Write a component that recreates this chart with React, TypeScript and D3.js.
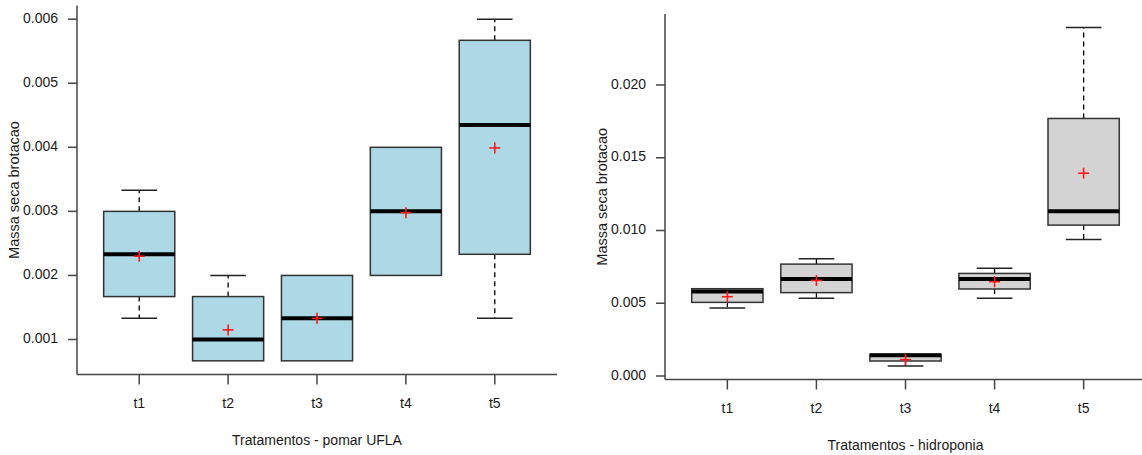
import React from "react";
import * as d3 from "d3";

// Treatment labels shared by both panels
const categories = ["t1", "t2", "t3", "t4", "t5"];

// Panel 1: pomar UFLA — five-number summaries and means
const pomarLower = [0.00133, 0.000667, 0.000667, 0.002, 0.00133];
const pomarQ1 = [0.00167, 0.000667, 0.000667, 0.002, 0.00233];
const pomarMedian = [0.00233, 0.001, 0.00133, 0.003, 0.00435];
const pomarQ3 = [0.003, 0.00167, 0.002, 0.004, 0.00567];
const pomarUpper = [0.00333, 0.002, 0.002, 0.004, 0.006];
const pomarMean = [0.0023, 0.00115, 0.00133, 0.00298, 0.00399];
const pomarTicks = [0.001, 0.002, 0.003, 0.004, 0.005, 0.006];

// Panel 2: hidroponia — five-number summaries and means
const hidroLower = [0.00467, 0.00534, 0.00069, 0.00534, 0.00939];
const hidroQ1 = [0.00506, 0.00573, 0.00103, 0.00598, 0.01037];
const hidroMedian = [0.0058, 0.00666, 0.00142, 0.00666, 0.01133];
const hidroQ3 = [0.006, 0.00769, 0.00149, 0.00705, 0.0177];
const hidroUpper = [0.006, 0.00806, 0.00149, 0.0074, 0.02395];
const hidroMean = [0.00545, 0.00657, 0.00113, 0.00648, 0.01394];
const hidroTicks = [0.0, 0.005, 0.01, 0.015, 0.02];

const W = 1142;
const H = 455;
const FONT = "'Liberation Sans', Arial, sans-serif";
const TEXT = "#1a1a1a";
const AXIS = "#444";

type Stats = {
  lower: number[];
  q1: number[];
  median: number[];
  q3: number[];
  upper: number[];
  mean: number[];
};

type PanelProps = {
  stats: Stats;
  ticks: number[];
  fill: string;
  xLabel: string;
  left: number;
  right: number;
  top: number;
  bottom: number;
  tickFormat: (v: number) => string;
};

function BoxPanel({ stats, ticks, fill, xLabel, left, right, top, bottom, tickFormat }: PanelProps) {
  const lo = d3.min(stats.lower)!;
  const hi = d3.max(stats.upper)!;
  const pad = (hi - lo) * 0.04;
  const y = d3.scaleLinear().domain([lo - pad, hi + pad]).range([bottom, top]);
  const x = d3.scaleLinear().domain([0.3, 5.7]).range([left, right]);
  const boxHalf = (x(1.4) - x(1)) ;
  const capHalf = (x(1.2) - x(1));
  const cx = (i: number) => x(i + 1);

  return (
    <g fontFamily={FONT} fill={TEXT}>
      {/* axes */}
      <line x1={left} x2={left} y1={top} y2={bottom} stroke={AXIS} strokeWidth={1.5} />
      <line x1={left} x2={right} y1={bottom} y2={bottom} stroke={AXIS} strokeWidth={1.5} />
      {ticks.map((t) => (
        <g key={t}>
          <line x1={left - 9} x2={left} y1={y(t)} y2={y(t)} stroke={AXIS} strokeWidth={1.5} />
          <text x={left - 19} y={y(t)} textAnchor="end" dominantBaseline="middle" fontSize={14}>
            {tickFormat(t)}
          </text>
        </g>
      ))}
      {categories.map((c, i) => (
        <g key={c}>
          <line x1={cx(i)} x2={cx(i)} y1={bottom} y2={bottom + 10} stroke={AXIS} strokeWidth={1.5} />
          <text x={cx(i)} y={bottom + 29.5} textAnchor="middle" dominantBaseline="middle" fontSize={14}>
            {c}
          </text>
        </g>
      ))}
      <text
        x={(left + right) / 2}
        y={bottom + 70}
        textAnchor="middle"
        fontSize={14}
      >
        {xLabel}
      </text>
      <text
        transform={`translate(${left - 62},${(top + bottom) / 2}) rotate(-90)`}
        textAnchor="middle"
        dominantBaseline="middle"
        fontSize={14.5}
      >
        Massa seca brotacao
      </text>

      {/* boxes */}
      {categories.map((c, i) => {
        const xc = cx(i);
        const yLow = y(stats.lower[i]);
        const yQ1 = y(stats.q1[i]);
        const yMed = y(stats.median[i]);
        const yQ3 = y(stats.q3[i]);
        const yUp = y(stats.upper[i]);
        const yMean = y(stats.mean[i]);
        return (
          <g key={c}>
            {stats.upper[i] > stats.q3[i] && (
              <>
                <line x1={xc} x2={xc} y1={yQ3} y2={yUp} stroke="#000" strokeWidth={1.3} strokeDasharray="5,4" />
                <line x1={xc - capHalf} x2={xc + capHalf} y1={yUp} y2={yUp} stroke="#222" strokeWidth={1.5} />
              </>
            )}
            {stats.lower[i] < stats.q1[i] && (
              <>
                <line x1={xc} x2={xc} y1={yQ1} y2={yLow} stroke="#000" strokeWidth={1.3} strokeDasharray="5,4" />
                <line x1={xc - capHalf} x2={xc + capHalf} y1={yLow} y2={yLow} stroke="#222" strokeWidth={1.5} />
              </>
            )}
            <rect
              x={xc - boxHalf}
              y={yQ3}
              width={boxHalf * 2}
              height={yQ1 - yQ3}
              fill={fill}
              stroke="#333"
              strokeWidth={1.5}
            />
            <line x1={xc - boxHalf} x2={xc + boxHalf} y1={yMed} y2={yMed} stroke="#000" strokeWidth={4} />
            <g stroke="#ff1a1a" strokeWidth={1.6}>
              <line x1={xc - 5.5} x2={xc + 5.5} y1={yMean} y2={yMean} />
              <line x1={xc} x2={xc} y1={yMean - 5.5} y2={yMean + 5.5} />
            </g>
          </g>
        );
      })}
    </g>
  );
}

export default function App() {
  const pomar: Stats = {
    lower: pomarLower,
    q1: pomarQ1,
    median: pomarMedian,
    q3: pomarQ3,
    upper: pomarUpper,
    mean: pomarMean,
  };
  const hidro: Stats = {
    lower: hidroLower,
    q1: hidroQ1,
    median: hidroMedian,
    q3: hidroQ3,
    upper: hidroUpper,
    mean: hidroMean,
  };
  return (
    <svg
      width={W}
      height={H}
      style={{ position: "absolute", left: 0, top: 0, background: "#fff" }}
    >
      <rect width={W} height={H} fill="#fff" />
      <BoxPanel
        stats={pomar}
        ticks={pomarTicks}
        fill="#add8e6"
        xLabel="Tratamentos - pomar UFLA"
        left={77}
        right={557}
        top={5.5}
        bottom={374.5}
        tickFormat={d3.format(".3f")}
      />
      <BoxPanel
        stats={hidro}
        ticks={hidroTicks}
        fill="#d3d3d3"
        xLabel="Tratamentos - hidroponia"
        left={665}
        right={1146}
        top={14}
        bottom={379.5}
        tickFormat={d3.format(".3f")}
      />
    </svg>
  );
}
